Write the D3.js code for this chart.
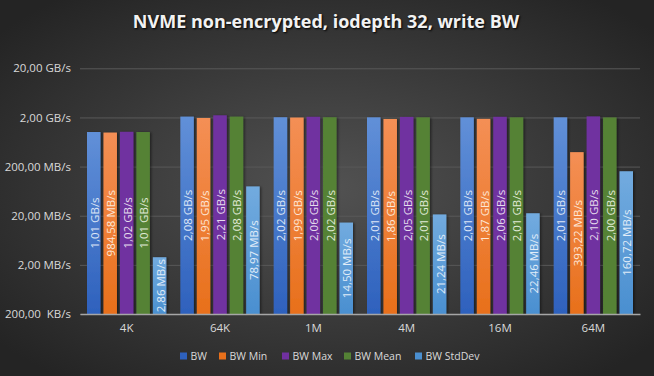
<!DOCTYPE html>
<html><head><meta charset="utf-8">
<script src="https://cdn.jsdelivr.net/npm/d3@7"></script>
<style>html,body{margin:0;padding:0;background:#333;}svg{display:block;}</style>
</head><body><svg id="c" width="654" height="376"></svg>
<script>
const categories = ["4K","64K","1M","4M","16M","64M"];
const seriesNames = ["BW","BW Min","BW Max","BW Mean","BW StdDev"];
// values in MB/s
const bw      = [1010, 2080, 2020, 2010, 2010, 2010];
const bwMin   = [984.58, 1950, 1990, 1860, 1870, 393.22];
const bwMax   = [1020, 2210, 2060, 2050, 2060, 2100];
const bwMean  = [1010, 2080, 2020, 2010, 2010, 2000];
const bwStd   = [2.86, 78.97, 14.50, 21.24, 22.46, 160.72];
const tickValues = [0.2, 2, 20, 200, 2000, 20000];
const tickLabels = ["200,00  KB/s","2,00 MB/s","20,00 MB/s","200,00 MB/s","2,00 GB/s","20,00 GB/s"];
const title = "NVME non-encrypted, iodepth 32, write BW";

const seriesData = [bw, bwMin, bwMax, bwMean, bwStd];
const colors = [
  ["#6190d8","#2e61bd"],
  ["#f48f55","#e8701b"],
  ["#7030a0","#7030a0"],
  ["#548235","#548235"],
  ["#72abdf","#4a8fd0"]
];
const labelColors = ["#dde6f6","#fde6d6","#e6dced","#e0ead7","#e0ecf8"];

const svg = d3.select("#c");
const W = 654, H = 376;
const defs = svg.append("defs");
const rg = defs.append("radialGradient").attr("id","bg").attr("cx","50%").attr("cy","50%").attr("r","65%");
rg.append("stop").attr("offset","0%").attr("stop-color","#525252");
rg.append("stop").attr("offset","100%").attr("stop-color","#242424");
colors.forEach((c,i)=>{
  const lg = defs.append("linearGradient").attr("id","g"+i).attr("x1",0).attr("y1",0).attr("x2",0).attr("y2",1);
  lg.append("stop").attr("offset","0%").attr("stop-color",c[0]);
  lg.append("stop").attr("offset","100%").attr("stop-color",c[1]);
});
const f = defs.append("filter").attr("id","sh").attr("x","-20%").attr("y","-5%").attr("width","150%").attr("height","110%");
f.append("feDropShadow").attr("dx",1.5).attr("dy",0.5).attr("stdDeviation",1).attr("flood-color","#000").attr("flood-opacity",0.45);

svg.append("rect").attr("width",W).attr("height",H).attr("fill","url(#bg)");

const font = "'Open Sans', 'Noto Sans', sans-serif";
svg.append("text").attr("x",326).attr("y",28).attr("text-anchor","middle")
  .attr("font-family",font).attr("font-weight","bold").attr("font-size",18)
  .attr("fill","#f2f2f2").attr("style","text-shadow:1px 1px 2px #000").text(title);

const plotLeft = 80, plotRight = 640, plotTop = 68.3, plotBottom = 314;
const y = d3.scaleLog().domain([0.2, 20000]).range([plotBottom, plotTop]);
const x0 = d3.scaleBand().domain(categories).range([plotLeft, plotRight]).paddingInner(0).paddingOuter(0);
const x1 = d3.scaleBand().domain(d3.range(5)).range([7, x0.bandwidth()-7]).paddingInner(0.18).paddingOuter(0);

// gridlines
const yAxis = d3.axisLeft(y).tickValues(tickValues).tickSize(-(plotRight-plotLeft)).tickPadding(9)
  .tickFormat((d,i)=>tickLabels[i]);
const ga = svg.append("g").attr("transform",`translate(${plotLeft},0)`).call(yAxis);
ga.select(".domain").remove();
ga.selectAll(".tick line").attr("stroke","#595959").attr("stroke-width",1);
ga.selectAll(".tick text").attr("fill","#d9d9d9").attr("font-family",font).attr("font-size",11.5).style("white-space","pre");

function fmt(v){
  if (v >= 1000) return d3.format(".2f")(v/1000).replace(".",",")+" GB/s";
  return d3.format(".2f")(v).replace(".",",")+" MB/s";
}

const groups = svg.append("g").selectAll("g").data(categories).join("g")
  .attr("transform",d=>`translate(${x0(d)},0)`);
seriesData.forEach((arr,si)=>{
  groups.append("rect")
    .attr("x",x1(si)).attr("width",x1.bandwidth())
    .attr("y",(d,ci)=>y(arr[ci])).attr("height",(d,ci)=>plotBottom-y(arr[ci]))
    .attr("fill",`url(#g${si})`).attr("filter","url(#sh)");
});
seriesData.forEach((arr,si)=>{
  groups.append("text")
    .attr("transform",(d,ci)=>`translate(${x1(si)+x1.bandwidth()/2+0.5},${(y(arr[ci])+plotBottom)/2}) rotate(-90)`)
    .attr("text-anchor","middle").attr("dominant-baseline","central")
    .attr("font-family",font).attr("font-size",11.5).attr("fill",labelColors[si])
    .text((d,ci)=>fmt(arr[ci]));
});

// x axis
const xAxis = d3.axisBottom(x0).tickSize(0).tickPadding(10);
const gx = svg.append("g").attr("transform",`translate(0,${plotBottom})`).call(xAxis);
gx.select(".domain").attr("stroke","#a6a6a6").attr("stroke-width",1.3);
gx.selectAll(".tick text").attr("fill","#d9d9d9").attr("font-family",font).attr("font-size",11.5);

// legend
const legX = [180, 219, 282, 344, 415];
const lg = svg.append("g");
seriesNames.forEach((n,i)=>{
  lg.append("rect").attr("x",legX[i]).attr("y",352.5).attr("width",7).attr("height",7).attr("fill",colors[i][1]);
  lg.append("text").attr("x",legX[i]+10.5).attr("y",356).attr("dominant-baseline","central")
    .attr("font-family",font).attr("font-size",10.5).attr("fill","#d9d9d9").text(n);
});
</script></body></html>
